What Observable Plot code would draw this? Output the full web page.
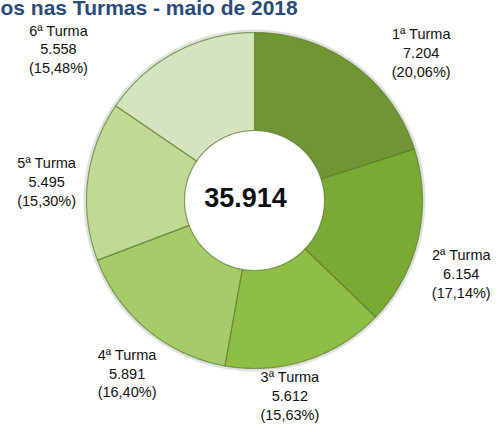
<!DOCTYPE html>
<html>
<head>
<meta charset="utf-8">
<script src="https://cdn.jsdelivr.net/npm/d3@7"></script>
<script src="https://cdn.jsdelivr.net/npm/@observablehq/plot@0.6"></script>
<style>
  html, body { margin: 0; padding: 0; background: #fff; }
</style>
</head>
<body>
<div id="chart"></div>
<script>
// ---- data ----
const turmas = ["1ª Turma", "2ª Turma", "3ª Turma", "4ª Turma", "5ª Turma", "6ª Turma"];
const alunos = [7204, 6154, 5612, 5891, 5495, 5558];
const valorLabels = ["7.204", "6.154", "5.612", "5.891", "5.495", "5.558"];
const pctLabels = ["(20,06%)", "(17,14%)", "(15,63%)", "(16,40%)", "(15,30%)", "(15,48%)"];
const totalLabel = "35.914";
const titulo = "os nas Turmas - maio de 2018";

// ---- style / layout ----
const colors = ["#709634", "#7aaa34", "#8fbe46", "#a6cc6a", "#beda96", "#d5e4bf"];
const W = 497, H = 428;
const CX = 254, CY = 200, R = 168;      // pixel center and outer radius
const inner = 70 / R;                   // hole radius (unit)
// label nudges in px relative to mid-angle anchor at 1.3R (x right, y down)
const labelNudge = [[38, 28], [-6, 23], [-32, -13], [12, 4], [9, 6], [-94, 41]];

const pie = d3.pie().sort(null).value(d => d)(alunos);

// polygon vertices (unit coordinates, angle clockwise from top)
const pts = [];
pie.forEach((p, i) => {
  const n = Math.max(8, Math.ceil((p.endAngle - p.startAngle) / 0.01));
  const ring = [];
  for (let k = 0; k <= n; k++) {
    const a = p.startAngle + (p.endAngle - p.startAngle) * k / n;
    ring.push({x: Math.sin(a), y: Math.cos(a)});
  }
  for (let k = n; k >= 0; k--) {
    const a = p.startAngle + (p.endAngle - p.startAngle) * k / n;
    ring.push({x: Math.sin(a) * inner, y: Math.cos(a) * inner});
  }
  ring.push(ring[0]);
  ring.forEach(q => pts.push({...q, turma: turmas[i]}));
});

const labels = pie.map((p, i) => {
  const mid = (p.startAngle + p.endAngle) / 2;
  return {
    x: Math.sin(mid) * 1.3 + labelNudge[i][0] / R,
    y: Math.cos(mid) * 1.3 - labelNudge[i][1] / R,
    text: `${turmas[i]}\n${valorLabels[i]}\n${pctLabels[i]}`
  };
});

// outer shadow ring
const shadow = d3.range(0, 361, 2).map(d => ({x: Math.sin(d * Math.PI / 180) * (1 + 1.5 / R), y: Math.cos(d * Math.PI / 180) * (1 + 1.5 / R)}));

const chart = Plot.plot({
  width: W,
  height: H,
  margin: 0,
  x: {domain: [-CX / R, (W - CX) / R], axis: null},
  y: {domain: [-(H - CY) / R, CY / R], axis: null},
  color: {domain: turmas, range: colors},
  style: {fontFamily: "'Liberation Sans', Arial, sans-serif", background: "#fff"},
  marks: [
    Plot.line(shadow, {x: "x", y: "y", stroke: "#888", strokeWidth: 3, strokeOpacity: 0.25}),
    Plot.line(pts, {x: "x", y: "y", z: "turma", fill: "turma", stroke: "#5a7a2c", strokeWidth: 1.2, strokeOpacity: 0.7, curve: "linear"}),
    Plot.text(labels, {x: "x", y: "y", text: "text", fontSize: 14.5, lineHeight: 1.3, fill: "#111", textAnchor: "middle", lineAnchor: "middle"}),
    Plot.text([totalLabel], {x: 0, y: 0, text: d => d, fontSize: 27, fontWeight: "bold", fill: "#111", dx: -9, dy: -2}),
    Plot.text([titulo], {frameAnchor: "top-left", text: d => d, textAnchor: "start", lineAnchor: "bottom", dy: 14, dx: 0, fontSize: 21, fontWeight: "bold", fill: "#2b4a78"})
  ]
});

document.getElementById("chart").appendChild(chart);
</script>
</body>
</html>
